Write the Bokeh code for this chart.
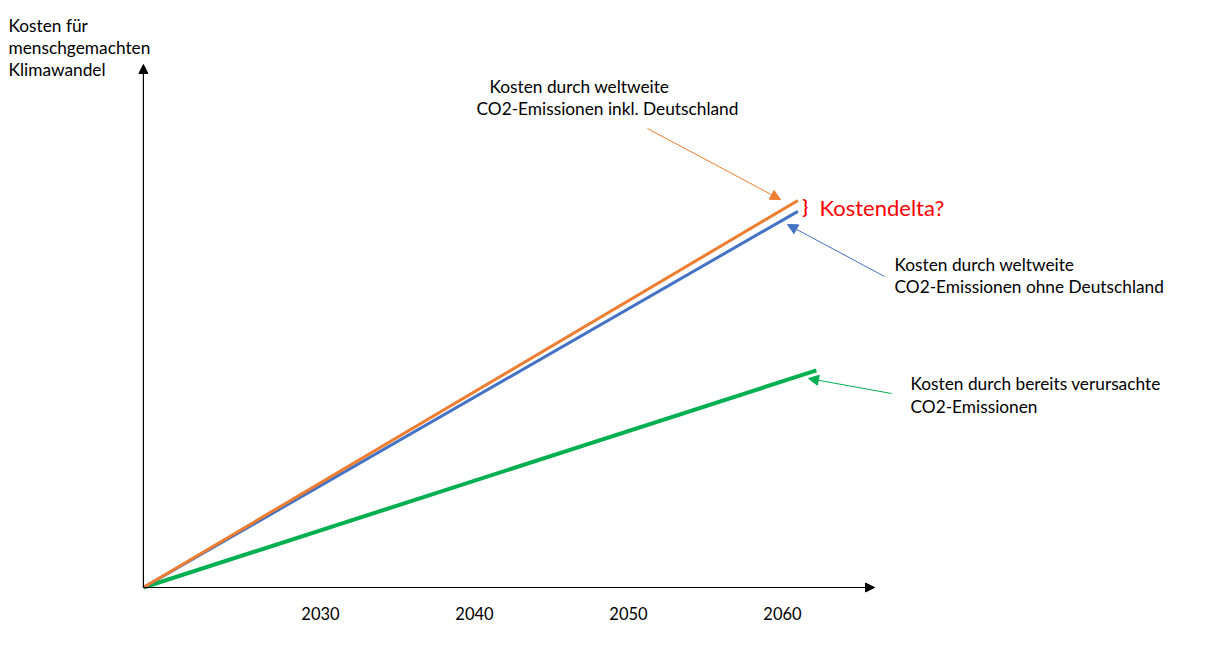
from bokeh.plotting import figure
from bokeh.models import Range1d, Arrow, NormalHead
from bokeh.core.properties import value
from bokeh.embed import file_html
from bokeh.resources import INLINE

# ---- data ----
start_year = 2018.5
tick_years = [2030, 2040, 2050, 2060]
orange_years = [start_year, 2061.0]
orange_cost = [0, 100.0]          # weltweit inkl. Deutschland
blue_years = [start_year, 2061.0]
blue_cost = [0, 97.2]             # weltweit ohne Deutschland
green_years = [start_year, 2062.2]
green_cost = [0, 56.1]            # bereits verursacht

# ---- pixel helpers for annotation placement (page px -> data) ----
def X(px):
    return 2030 + (px - 320) / 15.4

def Y(py):
    return (587 - py) / 3.87

W, H = 1207, 632
p = figure(width=W, height=H, output_backend="svg", toolbar_location=None,
           x_range=Range1d(X(0), X(W)), y_range=Range1d(Y(H), Y(0)),
           min_border=0, title=None)
p.axis.visible = False
p.grid.visible = False
p.outline_line_color = None
p.background_fill_color = "white"

FONT = value("Lato")
FS = "17.3px"

# axes with arrow heads
p.add_layout(Arrow(end=NormalHead(size=9, fill_color="black", line_color="black"),
                   x_start=start_year, y_start=0, x_end=X(874), y_end=0,
                   line_color="black", line_width=1.2))
p.add_layout(Arrow(end=NormalHead(size=9, fill_color="black", line_color="black"),
                   x_start=start_year, y_start=0, x_end=start_year, y_end=Y(64),
                   line_color="black", line_width=1.2))

# series lines
p.line(green_years, green_cost, line_color="#00B050", line_width=4)
p.line(blue_years, blue_cost, line_color="#4472C4", line_width=3)
p.line(orange_years, orange_cost, line_color="#ED7D31", line_width=3)

# tick labels
p.text(x=tick_years, y=[Y(613)] * len(tick_years), text=[str(t) for t in tick_years],
       text_align="center", text_baseline="middle", text_font=FONT,
       text_font_size="16.5px", text_color="black")

# y label
ylab = ["Kosten für", "menschgemachten", "Klimawandel"]
p.text(x=[X(8)] * 3, y=[Y(25), Y(47), Y(69)], text=ylab, text_align="left",
       text_baseline="middle", text_font=FONT, text_font_size=FS, text_color="black")

# annotations
p.text(x=[X(489), X(476)], y=[Y(86), Y(108)],
       text=["Kosten durch weltweite", "CO2-Emissionen inkl. Deutschland"],
       text_align="left", text_baseline="middle", text_font=FONT,
       text_font_size=FS, text_color="black")
p.text(x=[X(894), X(894)], y=[Y(264), Y(286)],
       text=["Kosten durch weltweite", "CO2-Emissionen ohne Deutschland"],
       text_align="left", text_baseline="middle", text_font=FONT,
       text_font_size=FS, text_color="black")
p.text(x=[X(910), X(910)], y=[Y(383), Y(406)],
       text=["Kosten durch bereits verursachte", "CO2-Emissionen"],
       text_align="left", text_baseline="middle", text_font=FONT,
       text_font_size=FS, text_color="black")
p.text(x=[X(802)], y=[Y(206)], text=["}"], text_align="left", text_baseline="middle",
       text_font=FONT, text_font_size="18px", text_color="#FF0000", text_font_style="bold")
p.text(x=[X(819)], y=[Y(207)], text=["Kostendelta?"], text_align="left",
       text_baseline="middle", text_font=FONT, text_font_size="22px", text_color="#FF0000")

# pointer arrows
for (x0, y0, x1, y1, c) in [(647, 128, 780, 199, "#ED7D31"),
                            (884, 276, 787, 224, "#4472C4"),
                            (891, 393, 808, 378, "#00B050")]:
    p.add_layout(Arrow(end=NormalHead(size=10, fill_color=c, line_color=c),
                       x_start=X(x0), y_start=Y(y0), x_end=X(x1), y_end=Y(y1),
                       line_color=c, line_width=1))

open("out.html", "w").write(file_html(p, INLINE))
